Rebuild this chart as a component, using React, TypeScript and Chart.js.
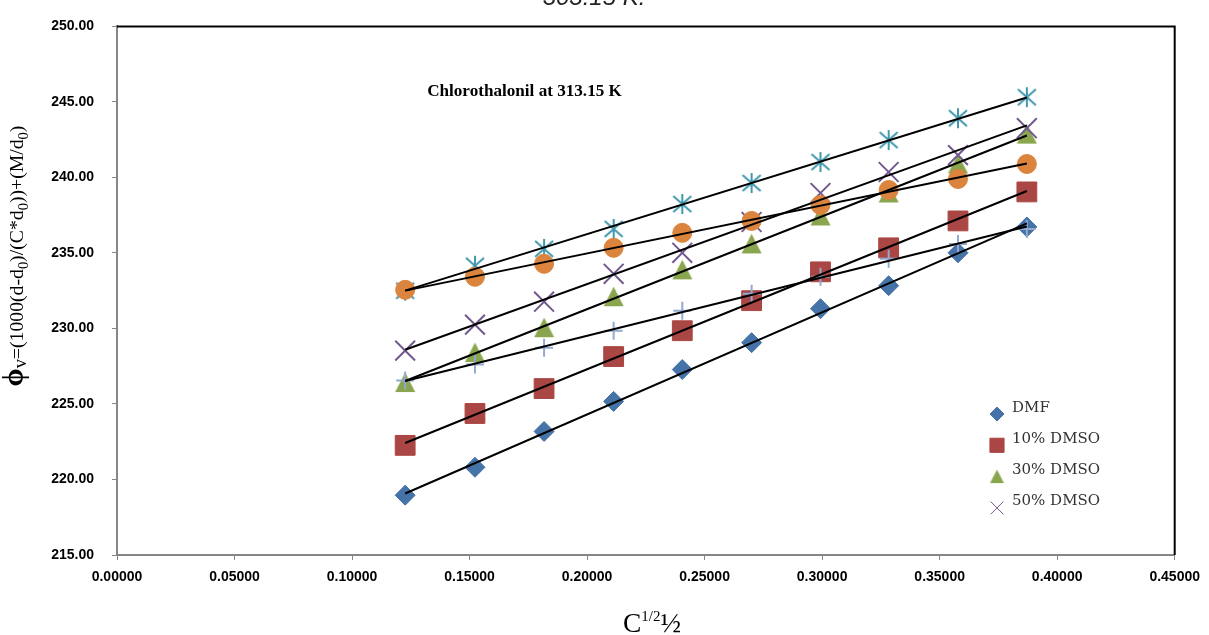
import React, { useEffect, useRef } from 'react';
import { Chart, registerables } from 'chart.js';
import { drawPoint } from 'chart.js/helpers';

Chart.register(...registerables);

// ---- data ----
const X_VALUES = [0.1226, 0.1523, 0.1817, 0.2113, 0.2405, 0.27, 0.2993, 0.3283, 0.3578, 0.3871];
const DMF = [218.96, 220.81, 223.18, 225.17, 227.28, 229.06, 231.31, 232.83, 235.01, 236.72];
const DMSO_10 = [222.26, 224.37, 226.02, 228.14, 229.85, 231.84, 233.75, 235.34, 237.12, 239.04];
const DMSO_30 = [226.42, 228.4, 230.05, 232.1, 233.88, 235.6, 237.45, 238.97, 240.89, 242.87];
const DMSO_50 = [228.53, 230.25, 231.77, 233.62, 235.01, 237.05, 238.97, 240.36, 241.48, 243.26];
const DMSO_70 = [232.5, 234.15, 235.27, 236.59, 238.24, 239.63, 241.02, 242.47, 243.92, 245.31];
const DMSO_90 = [232.56, 233.42, 234.28, 235.34, 236.33, 237.12, 238.18, 239.17, 239.9, 240.89];
const DMSO_100 = [226.55, 227.61, 228.73, 229.85, 231.18, 232.3, 233.42, 234.61, 235.6, 236.59];

const SERIES_LABELS = ['DMF', '10% DMSO', '30% DMSO', '50% DMSO', '70% DMSO', '90% DMSO', 'DMSO'];
const LEGEND_LABELS = ['DMF', '10% DMSO', '30% DMSO', '50% DMSO'];
const X_TICK_MIN = 0;
const X_TICK_MAX = 0.45;
const X_TICK_STEP = 0.05;
const Y_TICK_MIN = 215;
const Y_TICK_MAX = 250;
const Y_TICK_STEP = 5;
const ANNOTATION = 'Chlorothalonil at 313.15 K';
const TOP_TITLE = '303.15 K.';

const COLORS = ['#4572A7', '#AA4643', '#89A54E', '#71588F', '#4198AF', '#DB843D', '#93A9CF'];

function makeCanvas(w: number, h: number, draw: (c: CanvasRenderingContext2D) => void) {
  const cv = document.createElement('canvas');
  cv.width = w;
  cv.height = h;
  const c = cv.getContext('2d')!;
  draw(c);
  return cv;
}

function regression(xs: number[], ys: number[]) {
  const n = xs.length;
  const mx = xs.reduce((a, b) => a + b, 0) / n;
  const my = ys.reduce((a, b) => a + b, 0) / n;
  let sxy = 0;
  let sxx = 0;
  for (let i = 0; i < n; i++) {
    sxy += (xs[i] - mx) * (ys[i] - my);
    sxx += (xs[i] - mx) * (xs[i] - mx);
  }
  const b = sxy / sxx;
  const a = my - b * mx;
  const x0 = Math.min(...xs);
  const x1 = Math.max(...xs);
  return [
    { x: x0, y: a + b * x0 },
    { x: x1, y: a + b * x1 },
  ];
}

type Run = { text: string; size: number; weight?: string; style?: string; dy?: number; family: string };

function drawRuns(
  ctx: CanvasRenderingContext2D,
  runs: Run[],
  cx: number,
  cy: number,
  targetWidth: number,
  rotate: number,
  color: string
) {
  ctx.save();
  const fontOf = (r: Run, s: number) => `${r.style || 'normal'} ${r.weight || 'normal'} ${r.size * s}px ${r.family}`;
  const measure = (s: number) =>
    runs.reduce((w, r) => {
      ctx.font = fontOf(r, s);
      return w + ctx.measureText(r.text).width;
    }, 0);
  const s = targetWidth > 0 ? targetWidth / measure(1) : 1;
  const w = measure(s);
  ctx.translate(cx, cy);
  if (rotate) ctx.rotate(rotate);
  ctx.fillStyle = color;
  ctx.textAlign = 'left';
  ctx.textBaseline = 'alphabetic';
  let x = -w / 2;
  for (const r of runs) {
    ctx.font = fontOf(r, s);
    ctx.fillText(r.text, x, (r.dy || 0) * s);
    x += ctx.measureText(r.text).width;
  }
  ctx.restore();
}

export default function App() {
  const ref = useRef<HTMLCanvasElement>(null);

  useEffect(() => {
    const canvas = ref.current;
    if (!canvas) return;

    const asterisk = makeCanvas(22, 22, (c) => {
      c.strokeStyle = COLORS[4];
      c.lineWidth = 2;
      c.beginPath();
      c.moveTo(11, 1);
      c.lineTo(11, 21);
      c.moveTo(2, 3);
      c.lineTo(20, 19);
      c.moveTo(20, 3);
      c.lineTo(2, 19);
      c.stroke();
    });
    const triangle = (size: number) =>
      makeCanvas(size, size, (c) => {
        c.fillStyle = COLORS[2];
        c.beginPath();
        c.moveTo(size / 2, 0.5);
        c.lineTo(size - 0.5, size - 1);
        c.lineTo(0.5, size - 1);
        c.closePath();
        c.fill();
      });
    const triBig = triangle(21);
    const triSmall = triangle(15);

    const seriesData = [DMF, DMSO_10, DMSO_30, DMSO_50, DMSO_70, DMSO_90, DMSO_100];
    const styles: any[] = ['rectRot', 'rect', triBig, 'crossRot', asterisk, 'circle', 'cross'];
    const radii = [10, 14, 10, 14, 10, 9.5, 9];
    const borderWidths = [1, 1, 0, 2, 0, 1, 2];

    const scatterSets = seriesData.map((ys, i) => ({
      label: SERIES_LABELS[i],
      data: X_VALUES.map((x, j) => ({ x, y: ys[j] })),
      pointStyle: styles[i],
      pointRadius: radii[i],
      pointBackgroundColor: COLORS[i],
      pointBorderColor: COLORS[i],
      pointBorderWidth: borderWidths[i],
      showLine: false,
      order: 20 - i,
    }));
    const trendSets = seriesData.map((ys, i) => ({
      label: SERIES_LABELS[i] + ' trend',
      data: regression(X_VALUES, ys),
      showLine: true,
      borderColor: '#000000',
      borderWidth: 2,
      pointRadius: 0,
      fill: false,
      order: 0,
    }));

    const legendStyles: any[] = ['rectRot', 'rect', triSmall, 'crossRot'];
    const legendRadii = [7, 10, 8, 9];

    const overlay = {
      id: 'overlay',
      afterDraw(chart: any) {
        const ctx: CanvasRenderingContext2D = chart.ctx;
        const ca = chart.chartArea;
        // plot-area border (top & right)
        ctx.save();
        ctx.strokeStyle = '#000000';
        ctx.lineWidth = 2;
        ctx.beginPath();
        ctx.moveTo(ca.left, ca.top);
        ctx.lineTo(ca.right, ca.top);
        ctx.lineTo(ca.right, ca.bottom);
        ctx.stroke();
        ctx.restore();

        // cut-off title at the very top
        ctx.save();
        ctx.font = 'italic 24px "Liberation Sans"';
        ctx.fillStyle = '#222222';
        ctx.textAlign = 'center';
        ctx.textBaseline = 'alphabetic';
        ctx.fillText(TOP_TITLE, 594, 5);
        ctx.restore();

        // annotation
        drawRuns(
          ctx,
          [{ text: ANNOTATION, size: 15, weight: 'bold', family: '"Liberation Serif"' }],
          524.5,
          96,
          195,
          0,
          '#000000'
        );

        // legend
        ctx.save();
        for (let i = 0; i < LEGEND_LABELS.length; i++) {
          const my = 414 + i * 31.3;
          ctx.fillStyle = COLORS[i];
          ctx.strokeStyle = COLORS[i];
          drawPoint(
            ctx,
            { pointStyle: legendStyles[i], radius: legendRadii[i], rotation: 0, borderWidth: i === 3 ? 2 : 1 } as any,
            997,
            my
          );
          ctx.fillStyle = '#333333';
          ctx.font = '15px "DejaVu Serif"';
          ctx.textAlign = 'left';
          ctx.textBaseline = 'alphabetic';
          ctx.fillText(LEGEND_LABELS[i], 1012, 412 + i * 31);
        }
        ctx.restore();

        // y-axis title
        const fam = '"Liberation Serif"';
        drawRuns(
          ctx,
          [
            { text: 'ϕ', size: 22, weight: 'bold', family: fam },
            { text: 'v', size: 14, dy: 2, family: fam },
            { text: '=(1000(d-d', size: 15, family: fam },
            { text: '0', size: 11, dy: 4, family: fam },
            { text: ')/(C*d', size: 15, family: fam },
            { text: '0', size: 11, dy: 4, family: fam },
            { text: '))+(M/d', size: 15, family: fam },
            { text: '0', size: 11, dy: 4, family: fam },
            { text: ')', size: 15, family: fam },
          ],
          23,
          256,
          261,
          -Math.PI / 2,
          '#000000'
        );

        // x-axis title
        drawRuns(
          ctx,
          [
            { text: 'C', size: 22, family: fam },
            { text: '1/2', size: 12, dy: -9, family: fam },
            { text: '½', size: 22, family: fam },
          ],
          652,
          632,
          58,
          0,
          '#000000'
        );
      },
    };

    const chart = new Chart(canvas, {
      type: 'scatter',
      data: { datasets: [...trendSets, ...scatterSets] as any },
      options: {
        responsive: false,
        animation: false,
        layout: { padding: { top: 25, right: 32, left: 0, bottom: 0 } },
        plugins: {
          legend: { display: false },
          tooltip: { enabled: false },
          title: { display: false },
        },
        scales: {
          x: {
            type: 'linear',
            min: X_TICK_MIN,
            max: X_TICK_MAX,
            afterFit: (s: any) => {
              s.height = 80;
            },
            ticks: {
              stepSize: X_TICK_STEP,
              padding: 9,
              color: '#000000',
              font: { family: '"Liberation Sans"', weight: 'bold', size: 14 },
              callback: (v: any) => Number(v).toFixed(5),
              maxRotation: 0,
              autoSkip: false,
            },
            grid: {
              display: true,
              drawOnChartArea: false,
              drawTicks: true,
              tickLength: 5,
              color: '#868686',
              lineWidth: 1,
            },
            border: { display: true, color: '#868686', width: 2 },
          },
          y: {
            type: 'linear',
            min: Y_TICK_MIN,
            max: Y_TICK_MAX,
            afterFit: (s: any) => {
              s.width = 117;
            },
            ticks: {
              stepSize: Y_TICK_STEP,
              padding: 18,
              color: '#000000',
              font: { family: '"Liberation Sans"', weight: 'bold', size: 14 },
              callback: (v: any) => Number(v).toFixed(2),
            },
            grid: {
              display: true,
              drawOnChartArea: false,
              drawTicks: true,
              tickLength: 5,
              color: '#868686',
              lineWidth: 1,
            },
            border: { display: true, color: '#868686', width: 2 },
          },
        },
      },
      plugins: [overlay],
    });

    return () => chart.destroy();
  }, []);

  return (
    <div style={{ position: 'fixed', left: 0, top: 0, width: 1209, height: 635, background: '#ffffff' }}>
      <canvas ref={ref} width={1209} height={635} style={{ display: 'block', width: 1209, height: 635 }} />
    </div>
  );
}
